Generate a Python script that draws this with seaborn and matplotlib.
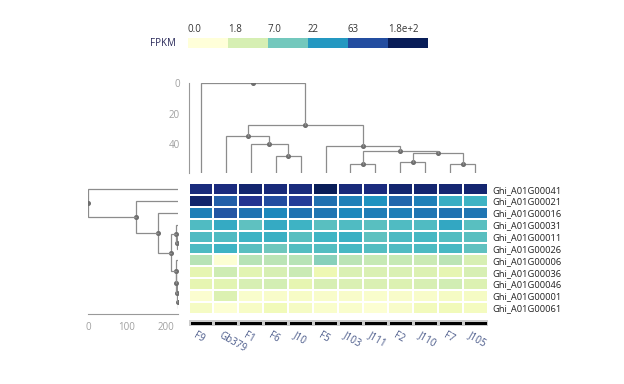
import numpy as np
import matplotlib
matplotlib.use("Agg")
import matplotlib.pyplot as plt
import seaborn as sns
from matplotlib.colors import ListedColormap

sns.set_style("white")
plt.rcParams['font.family'] = ['Open Sans', 'DejaVu Sans']

# --- data ---
samples = ['F9', 'Gb379', 'F1', 'F6', 'J10', 'F5', 'J103', 'J111', 'F2', 'J110', 'F7', 'J105']
genes = ['Ghi_A01G00041', 'Ghi_A01G00021', 'Ghi_A01G00016', 'Ghi_A01G00031',
         'Ghi_A01G00011', 'Ghi_A01G00026', 'Ghi_A01G00006', 'Ghi_A01G00036',
         'Ghi_A01G00046', 'Ghi_A01G00001', 'Ghi_A01G00061']

fpkm_00041 = [122, 118, 140, 124, 122, 178, 124, 118, 140, 137, 135, 138]
fpkm_00021 = [146, 48, 96, 63, 82, 38, 31, 24, 43, 31, 14.8, 13.2]
fpkm_00016 = [31.5, 54, 37, 28, 37, 35, 28, 31.5, 31.5, 35, 37, 35]
fpkm_00031 = [10.5, 15.6, 8.9, 15.6, 13.2, 9.4, 10.5, 9.4, 10.5, 10.5, 16.5, 9.4]
fpkm_00011 = [10.5, 10.5, 13.2, 14, 9.4, 12.5, 14, 8.9, 11.1, 11.8, 10, 9.4]
fpkm_00026 = [11.1, 13.2, 9.4, 7.4, 10, 10, 11.8, 10, 10.5, 11.1, 11.8, 8.9]
fpkm_00006 = [3.3, 0.11, 3.3, 3.1, 3.3, 5.5, 3.1, 2.7, 2.7, 2.5, 3.1, 1.8]
fpkm_00036 = [1.2, 2.3, 1.3, 1.8, 2.5, 0.87, 1.7, 1.7, 1.7, 1.55, 1.2, 1.8]
fpkm_00046 = [1.2, 1.3, 1.8, 2.0, 1.2, 1.8, 1.7, 1.7, 1.55, 1.8, 2.1, 1.55]
fpkm_00001 = [0.17, 1.55, 0.23, 0.3, 0.37, 0.3, 0.3, 0.23, 0.3, 0.3, 0.44, 0.44]
fpkm_00061 = [0.44, 0.11, 0.37, 0.68, 0.44, 0.23, 0.23, 0.11, 0.3, 0.6, 0.68, 0.52]

legend_labels = ['0.0', '1.8', '7.0', '22', '63', '1.8e+2']
fpkm_max = 180

# dendrogram merges (children indexes, leaves first then new nodes), heights
col_merge_a = [3, 2, 1, 6, 8, 10, 16, 15, 5, 14, 0]
col_merge_b = [4, 12, 13, 7, 9, 11, 17, 18, 19, 20, 21]
col_merge_h = [47.9, 40, 34.5, 53.3, 52, 52.9, 46, 44.6, 41, 27.7, 0]
col_leaf_h = 59.3

row_merge_a = [9, 8, 7, 6, 4, 3, 16, 2, 1, 0]
row_merge_b = [10, 11, 12, 13, 5, 15, 14, 17, 18, 19]
row_merge_h = [231, 230, 228, 226, 229, 226, 214, 180, 123, 0]
row_leaf_h = 233

mat = np.log1p(np.array([fpkm_00041, fpkm_00021, fpkm_00016, fpkm_00031, fpkm_00011,
                         fpkm_00026, fpkm_00006, fpkm_00036, fpkm_00046, fpkm_00001,
                         fpkm_00061]))
vmax = np.log1p(fpkm_max)

W, H = 624, 384
fig = plt.figure(figsize=(W / 100, H / 100), dpi=100)

def box(x0, y0, x1, y1):
    # pixel box -> figure fraction
    return [x0 / W, 1 - y1 / H, (x1 - x0) / W, (y1 - y0) / H]

axis_grey = '#999999'
line_grey = '#8c8c8c'


def draw_dendro(ax, a_list, b_list, h_list, n, leaf_h, side):
    pos = {i: i + 0.5 for i in range(n)}
    hgt = {i: leaf_h for i in range(n)}
    for k, (a, b, h) in enumerate(zip(a_list, b_list, h_list)):
        xs = [pos[a], pos[a], pos[b], pos[b]]
        ys = [hgt[a], h, h, hgt[b]]
        node = n + k
        pos[node] = (pos[a] + pos[b]) / 2
        hgt[node] = h
        if side == 'top':
            ax.plot(xs, ys, color=line_grey, lw=0.9, solid_joinstyle='miter')
            ax.plot(pos[node], h, 'o', color='#6e6e6e', ms=2.6)
        else:
            ax.plot(ys, xs, color=line_grey, lw=0.9, solid_joinstyle='miter')
            ax.plot(h, pos[node], 'o', color='#6e6e6e', ms=2.6)


def style_axis(ax, side):
    for s in ax.spines.values():
        s.set_visible(False)
    ax.tick_params(colors=axis_grey, labelcolor='#a0a0a0', labelsize=7,
                   length=4, width=0.8, direction='out')
    if side == 'top':
        ax.spines['left'].set_visible(True)
        ax.spines['left'].set_color(axis_grey)
        ax.set_xticks([])
        ax.tick_params(axis='y', pad=2)
    else:
        ax.spines['bottom'].set_visible(True)
        ax.spines['bottom'].set_color(axis_grey)
        ax.set_yticks([])
        ax.tick_params(axis='x', pad=2)


# heatmap
ax_hm = fig.add_axes(box(188.5, 183.3, 487.5, 313.7))
sns.heatmap(mat, ax=ax_hm, cmap='YlGnBu', vmin=0, vmax=vmax, cbar=False,
            linewidths=1.4, linecolor='white', xticklabels=False, yticklabels=genes)
ax_hm.yaxis.tick_right()
ax_hm.tick_params(axis='y', length=0, pad=3.5, labelsize=6.7, labelcolor='#222222', rotation=0)

# sample annotation bar
ax_bar = fig.add_axes(box(188.5, 319.5, 487.5, 325.5))
sns.heatmap(np.zeros((1, len(samples))), ax=ax_bar, cmap=ListedColormap(['black']),
            cbar=False, linewidths=0.8, linecolor='#cccccc',
            xticklabels=False, yticklabels=False)
for i, s in enumerate(samples):
    ax_bar.text(i + 0.25, 2.5, s, rotation=-30, rotation_mode='anchor',
                ha='left', va='center', fontsize=7, color='#4a5a8a')

# top dendrogram
ax_top = fig.add_axes(box(188.5, 83.3, 487.5, 173.3))
draw_dendro(ax_top, col_merge_a, col_merge_b, col_merge_h, len(samples), col_leaf_h, 'top')
ax_top.set_xlim(0, len(samples))
ax_top.set_ylim(col_leaf_h, 0)
ax_top.set_yticks([0, 20, 40])
style_axis(ax_top, 'top')

# left dendrogram
ax_left = fig.add_axes(box(88.3, 183.3, 178.3, 313.7))
draw_dendro(ax_left, row_merge_a, row_merge_b, row_merge_h, len(genes), row_leaf_h, 'left')
ax_left.set_ylim(len(genes), 0)
ax_left.set_xlim(0, row_leaf_h)
ax_left.set_xticks([0, 100, 200])
style_axis(ax_left, 'left')

# legend
ax_leg = fig.add_axes(box(187.7, 38.3, 427.7, 47.7))
sns.heatmap(np.arange(len(legend_labels))[None, :], ax=ax_leg, cmap='YlGnBu',
            vmin=0, vmax=len(legend_labels) - 1, cbar=False,
            xticklabels=False, yticklabels=False)
for k, lab in enumerate(legend_labels):
    ax_leg.text(k, -0.35, lab, ha='left', va='bottom', fontsize=7, color='#333333')
ax_leg.text(-0.3, 0.5, 'FPKM', ha='right', va='center', fontsize=7, color='#2a2a5a')

fig.savefig('out.png', dpi=100)
